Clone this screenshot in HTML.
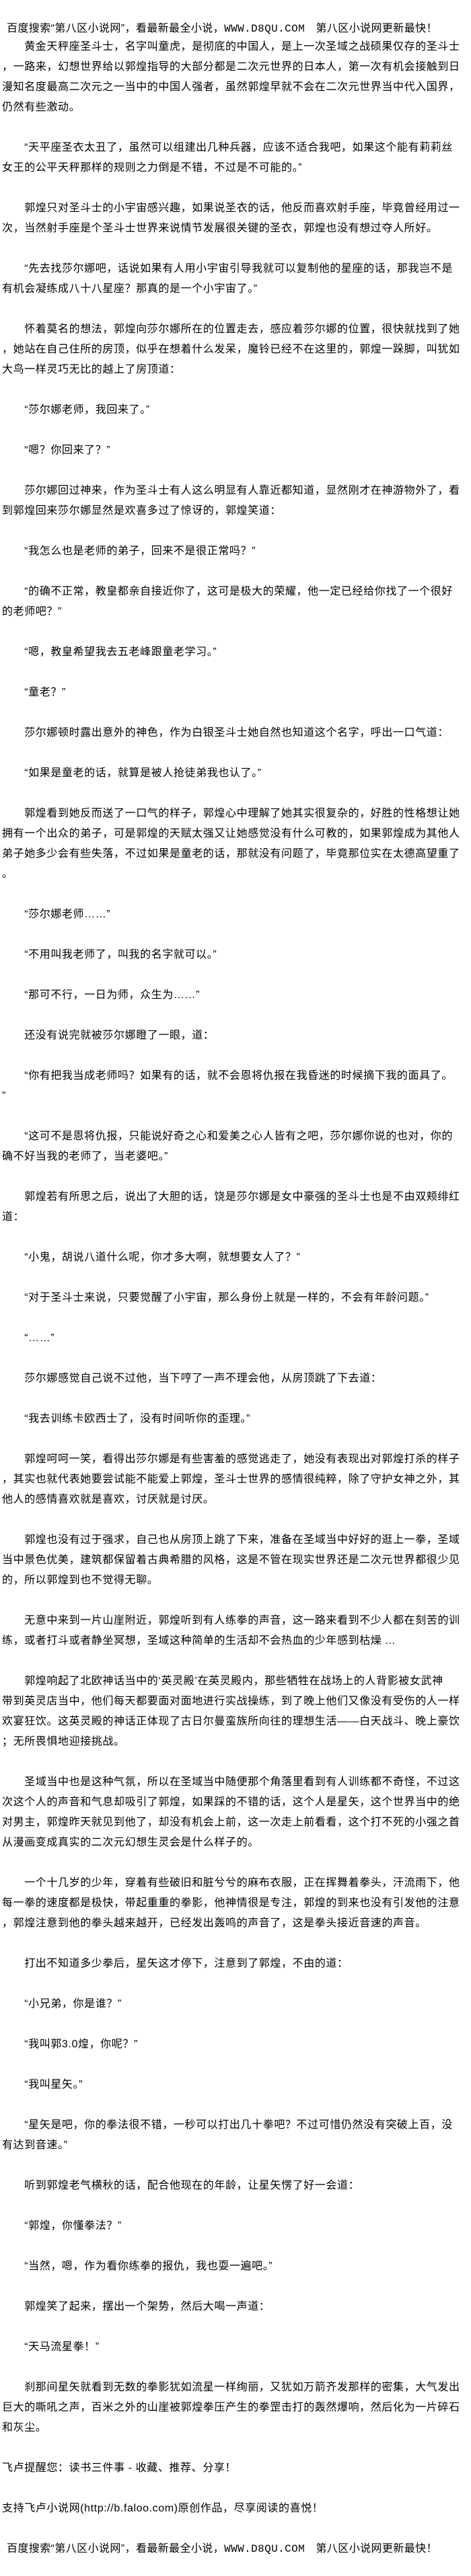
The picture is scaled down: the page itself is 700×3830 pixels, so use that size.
<!DOCTYPE html>
<html><head><meta charset="utf-8">
<style>
html,body{margin:0;padding:0;background:#fff;}
body{width:700px;height:3830px;overflow:hidden;font-family:"Liberation Sans","Noto Sans CJK SC",sans-serif;font-size:16px;color:#000;}
.hd{position:absolute;left:10px;white-space:pre;line-height:30px;letter-spacing:0.4px;}
#t{position:absolute;left:3px;top:55px;white-space:pre;line-height:30px;letter-spacing:0.6px;}
</style></head><body>
<div class="hd" style="top:28px">百度搜索“第八区小说网”，看最新最全小说，<span style="font-family:'Liberation Mono',monospace">WWW.D8QU.COM</span>　第八区小说网更新最快！</div>
<div id="t">　　黄金天秤座圣斗士，名字叫童虎，是彻底的中国人，是上一次圣域之战硕果仅存的圣斗士
，一路来，幻想世界给以郭煌指导的大部分都是二次元世界的日本人，第一次有机会接触到日
漫知名度最高二次元之一当中的中国人强者，虽然郭煌早就不会在二次元世界当中代入国界，
仍然有些激动。

　　“天平座圣衣太丑了，虽然可以组建出几种兵器，应该不适合我吧，如果这个能有莉莉丝
女王的公平天秤那样的规则之力倒是不错，不过是不可能的。”

　　郭煌只对圣斗士的小宇宙感兴趣，如果说圣衣的话，他反而喜欢射手座，毕竟曾经用过一
次，当然射手座是个圣斗士世界来说情节发展很关键的圣衣，郭煌也没有想过夺人所好。

　　“先去找莎尔娜吧，话说如果有人用小宇宙引导我就可以复制他的星座的话，那我岂不是
有机会凝练成八十八星座？那真的是一个小宇宙了。”

　　怀着莫名的想法，郭煌向莎尔娜所在的位置走去，感应着莎尔娜的位置，很快就找到了她
，她站在自己住所的房顶，似乎在想着什么发呆，魔铃已经不在这里的，郭煌一跺脚，叫犹如
大鸟一样灵巧无比的越上了房顶道：

　　“莎尔娜老师，我回来了。”

　　“嗯？你回来了？”

　　莎尔娜回过神来，作为圣斗士有人这么明显有人靠近都知道，显然刚才在神游物外了，看
到郭煌回来莎尔娜显然是欢喜多过了惊讶的，郭煌笑道：

　　“我怎么也是老师的弟子，回来不是很正常吗？”

　　“的确不正常，教皇都亲自接近你了，这可是极大的荣耀，他一定已经给你找了一个很好
的老师吧？”

　　“嗯，教皇希望我去五老峰跟童老学习。”

　　“童老？”

　　莎尔娜顿时露出意外的神色，作为白银圣斗士她自然也知道这个名字，呼出一口气道：

　　“如果是童老的话，就算是被人抢徒弟我也认了。”

　　郭煌看到她反而送了一口气的样子，郭煌心中理解了她其实很复杂的，好胜的性格想让她
拥有一个出众的弟子，可是郭煌的天赋太强又让她感觉没有什么可教的，如果郭煌成为其他人
弟子她多少会有些失落，不过如果是童老的话，那就没有问题了，毕竟那位实在太德高望重了
。

　　“莎尔娜老师……”

　　“不用叫我老师了，叫我的名字就可以。”

　　“那可不行，一日为师，众生为……”

　　还没有说完就被莎尔娜瞪了一眼，道：

　　“你有把我当成老师吗？如果有的话，就不会恩将仇报在我昏迷的时候摘下我的面具了。
”

　　“这可不是恩将仇报，只能说好奇之心和爱美之心人皆有之吧，莎尔娜你说的也对，你的
确不好当我的老师了，当老婆吧。”

　　郭煌若有所思之后，说出了大胆的话，饶是莎尔娜是女中豪强的圣斗士也是不由双颊绯红
道：

　　“小鬼，胡说八道什么呢，你才多大啊，就想要女人了？”

　　“对于圣斗士来说，只要觉醒了小宇宙，那么身份上就是一样的，不会有年龄问题。”

　　“……”

　　莎尔娜感觉自己说不过他，当下哼了一声不理会他，从房顶跳了下去道：

　　“我去训练卡欧西士了，没有时间听你的歪理。”

　　郭煌呵呵一笑，看得出莎尔娜是有些害羞的感觉逃走了，她没有表现出对郭煌打杀的样子
，其实也就代表她要尝试能不能爱上郭煌，圣斗士世界的感情很纯粹，除了守护女神之外，其
他人的感情喜欢就是喜欢，讨厌就是讨厌。

　　郭煌也没有过于强求，自己也从房顶上跳了下来，准备在圣域当中好好的逛上一拳，圣域
当中景色优美，建筑都保留着古典希腊的风格，这是不管在现实世界还是二次元世界都很少见
的，所以郭煌到也不觉得无聊。

　　无意中来到一片山崖附近，郭煌听到有人练拳的声音，这一路来看到不少人都在刻苦的训
练，或者打斗或者静坐冥想，圣域这种简单的生活却不会热血的少年感到枯燥 ...

　　郭煌响起了北欧神话当中的‘英灵殿’在英灵殿内，那些牺牲在战场上的人背影被女武神
带到英灵店当中，他们每天都要面对面地进行实战操练，到了晚上他们又像没有受伤的人一样
欢宴狂饮。这英灵殿的神话正体现了古日尔曼蛮族所向往的理想生活——白天战斗、晚上豪饮
；无所畏惧地迎接挑战。

　　圣域当中也是这种气氛，所以在圣域当中随便那个角落里看到有人训练都不奇怪，不过这
次这个人的声音和气息却吸引了郭煌，如果踩的不错的话，这个人是星矢，这个世界当中的绝
对男主，郭煌昨天就见到他了，却没有机会上前，这一次走上前看看，这个打不死的小强之首
从漫画变成真实的二次元幻想生灵会是什么样子的。

　　一个十几岁的少年，穿着有些破旧和脏兮兮的麻布衣服，正在挥舞着拳头，汗流雨下，他
每一拳的速度都是极快，带起重重的拳影，他神情很是专注，郭煌的到来也没有引发他的注意
，郭煌注意到他的拳头越来越开，已经发出轰鸣的声音了，这是拳头接近音速的声音。

　　打出不知道多少拳后，星矢这才停下，注意到了郭煌，不由的道：

　　“小兄弟，你是谁？”

　　“我叫郭3.0煌，你呢？”

　　“我叫星矢。”

　　“星矢是吧，你的拳法很不错，一秒可以打出几十拳吧？不过可惜仍然没有突破上百，没
有达到音速。”

　　听到郭煌老气横秋的话，配合他现在的年龄，让星矢愣了好一会道：

　　“郭煌，你懂拳法？”

　　“当然，嗯，作为看你练拳的报仇，我也耍一遍吧。”

　　郭煌笑了起来，摆出一个架势，然后大喝一声道：

　　“天马流星拳！”

　　刹那间星矢就看到无数的拳影犹如流星一样绚丽，又犹如万箭齐发那样的密集，大气发出
巨大的嘶吼之声，百米之外的山崖被郭煌拳压产生的拳罡击打的轰然爆响，然后化为一片碎石
和灰尘。

飞卢提醒您：读书三件事 - 收藏、推荐、分享！

支持飞卢小说网(http://b.faloo.com)原创作品，尽享阅读的喜悦！</div>
<div class="hd" style="top:3775px">百度搜索“第八区小说网”，看最新最全小说，<span style="font-family:'Liberation Mono',monospace">WWW.D8QU.COM</span>　第八区小说网更新最快！</div>
</body></html>
